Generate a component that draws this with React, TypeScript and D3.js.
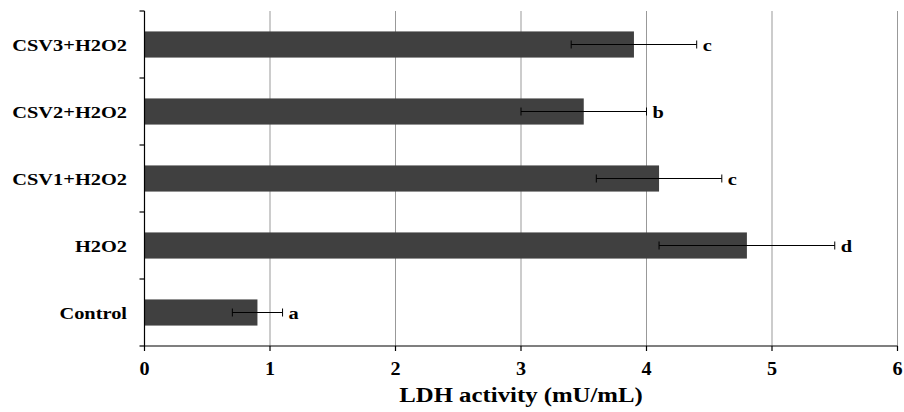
import React from 'react';
import * as d3 from 'd3';

const categories = ['CSV3+H2O2', 'CSV2+H2O2', 'CSV1+H2O2', 'H2O2', 'Control'];
const means = [3.9, 3.5, 4.1, 4.8, 0.9];
const errors = [0.5, 0.5, 0.5, 0.7, 0.2];
const letters = ['c', 'b', 'c', 'd', 'a'];
const xTicks = [0, 1, 2, 3, 4, 5, 6];

const W = 904;
const H = 412;
const margin = { left: 144.5, right: 6.5, top: 11, bottom: 66 };
const font = '"Liberation Serif", "Times New Roman", serif';

// the source picture is stretched sideways, so the text is too
const Label = ({ x, y, anchor = 'start', size = 17, sx = 1.2, children }: any) => (
  <text
    transform={`translate(${x},${y}) scale(${sx},1)`}
    textAnchor={anchor}
    fontFamily={font}
    fontWeight="bold"
    fontSize={size}
    fill="#000"
  >
    {children}
  </text>
);

const App = () => {
  const x = d3.scaleLinear().domain([0, 6]).range([margin.left, W - margin.right]);
  const y = d3
    .scaleBand()
    .domain(categories)
    .range([margin.top, H - margin.bottom])
    .paddingInner(0.61)
    .paddingOuter(0.305);
  const outer = d3.scaleBand().domain(categories).range([margin.top, H - margin.bottom]);
  const baseY = H - margin.bottom;
  const bounds = categories.map((c) => outer(c)).concat([baseY]);
  const mid = (c: string) => y(c)! + y.bandwidth() / 2;

  return (
    <svg width={W} height={H} style={{ position: 'absolute', left: 0, top: 0, background: '#fff' }}>
      {/* grid */}
      {xTicks.slice(1).map((t) => (
        <line key={t} x1={x(t)} x2={x(t)} y1={margin.top} y2={baseY} stroke="#999" strokeWidth={1} />
      ))}
      {/* bars */}
      {categories.map((c, i) => (
        <rect key={c} x={x(0)} y={y(c)} width={x(means[i]) - x(0)} height={y.bandwidth()} fill="#404040" />
      ))}
      {/* error bars */}
      {categories.map((c, i) => {
        const cy = mid(c);
        const lo = x(means[i] - errors[i]);
        const hi = x(means[i] + errors[i]);
        return (
          <g key={c} stroke="#000" strokeWidth={1}>
            <line x1={lo} x2={hi} y1={cy} y2={cy} />
            <line x1={lo} x2={lo} y1={cy - 4} y2={cy + 4} />
            <line x1={hi} x2={hi} y1={cy - 4} y2={cy + 4} />
          </g>
        );
      })}
      {/* letters */}
      {categories.map((c, i) => (
        <Label key={c} x={x(means[i] + errors[i]) + 6} y={mid(c) + 6}>
          {letters[i]}
        </Label>
      ))}
      {/* y axis */}
      <line x1={x(0)} x2={x(0)} y1={margin.top} y2={baseY} stroke="#000" strokeWidth={1.2} />
      {bounds.map((b, i) => (
        <line key={i} x1={x(0) - 5} x2={x(0)} y1={b} y2={b} stroke="#000" strokeWidth={1.2} />
      ))}
      {categories.map((c) => (
        <Label key={c} x={127} y={mid(c) + 6.5} anchor="end">
          {c}
        </Label>
      ))}
      {/* x axis */}
      <line x1={x(0)} x2={x(6)} y1={baseY} y2={baseY} stroke="#000" strokeWidth={1.2} />
      {xTicks.map((t) => (
        <g key={t}>
          <line x1={x(t)} x2={x(t)} y1={baseY} y2={baseY + 5} stroke="#000" strokeWidth={1.2} />
          <Label x={x(t)} y={baseY + 29} anchor="middle" size={18} sx={1.12}>
            {t}
          </Label>
        </g>
      ))}
      <Label x={(x(0) + x(6)) / 2} y={baseY + 56} anchor="middle" size={21} sx={1.18}>
        LDH activity (mU/mL)
      </Label>
    </svg>
  );
};

export default App;
